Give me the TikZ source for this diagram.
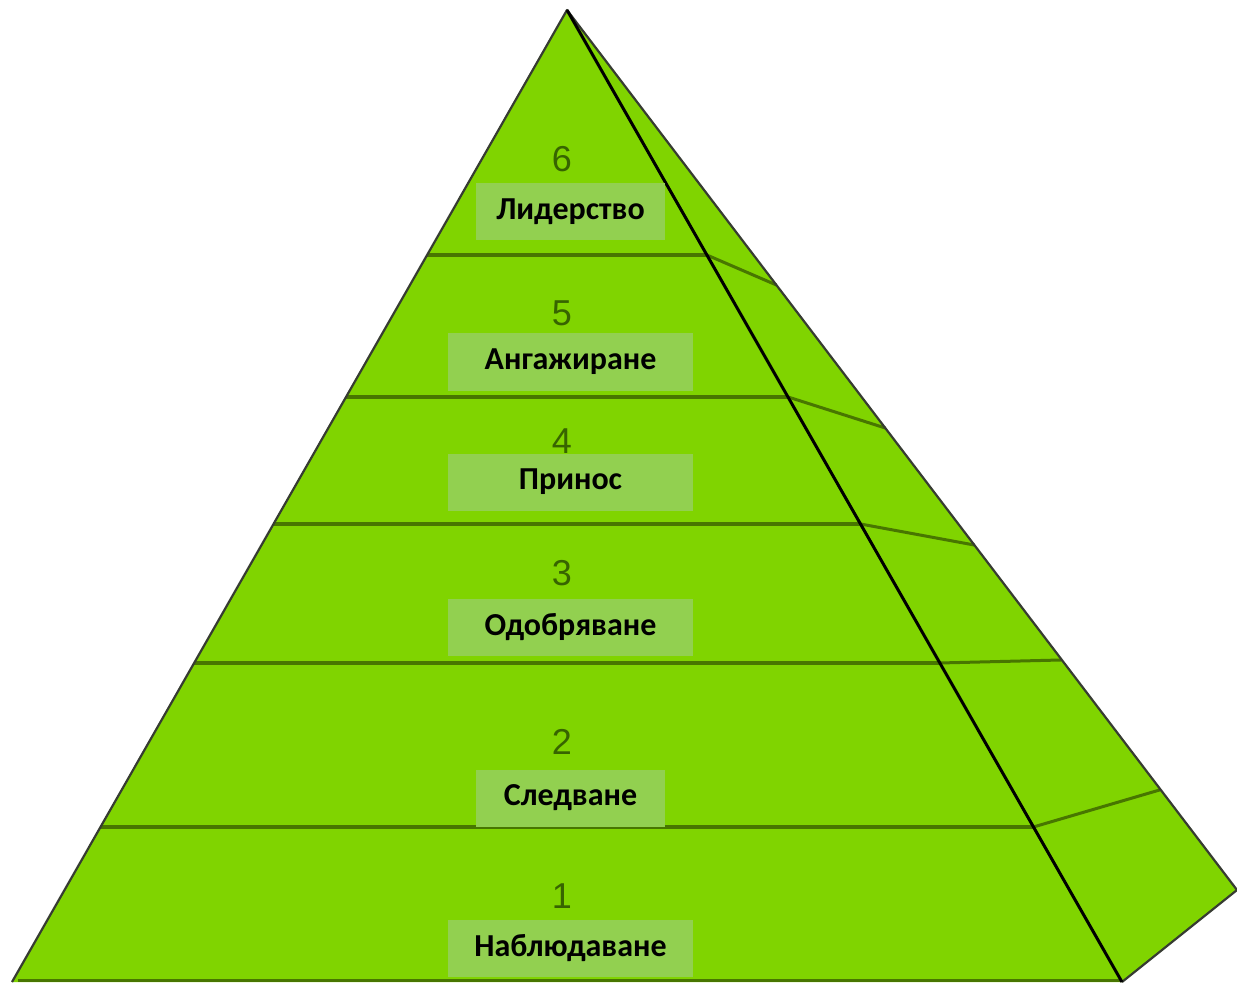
\documentclass[tikz,border=0pt]{standalone}
\usepackage{fontspec}
\setmainfont{Carlito}
\newfontfamily\numfont{Liberation Sans}
\usepackage{xcolor}
\usetikzlibrary{calc,positioning}
\definecolor{pyrgreen}{RGB}{128,212,0}
\definecolor{boxgreen}{RGB}{146,208,80}
\definecolor{linegreen}{RGB}{72,118,0}
\definecolor{numgreen}{RGB}{55,100,0}
\definecolor{rimgrey}{RGB}{55,60,50}

\begin{document}
\begin{tikzpicture}[x=1pt,y=-1pt,
    band/.style={linegreen, line width=4pt},
    sideline/.style={linegreen, line width=3pt},
    lvlbox/.style={fill=boxgreen, minimum height=57pt, inner sep=0pt, font=\fontsize{32}{34}\selectfont\bfseries},
    lvlnum/.style={text=numgreen, font=\numfont\fontsize{36}{38}\selectfont}]
    \useasboundingbox (0,0) rectangle (1237,984);
    % corners of the pyramid
    \coordinate (apex) at (567,10);
    \coordinate (left) at (12,982);
    \coordinate (edge) at (1122,982);
    \coordinate (right) at (1237,890);
    % faces
    \fill[pyrgreen] (apex) -- (left) -- (edge) -- (right) -- cycle;
    \draw[linegreen, line width=3pt] ($(left)+(6,-2)$) -- ($(edge)+(0,-2)$);
    % levels on the front face and the side face
    \draw[band] ($(apex)!.2521!(left)$) -- ($(apex)!.2521!(edge)$);
    \draw[sideline] ($(apex)!.2521!(edge)$) -- ($(apex)!.3125!(right)$);
    \draw[band] ($(apex)!.3981!(left)$) -- ($(apex)!.3981!(edge)$);
    \draw[sideline] ($(apex)!.3981!(edge)$) -- ($(apex)!.4750!(right)$);
    \draw[band] ($(apex)!.5288!(left)$) -- ($(apex)!.5288!(edge)$);
    \draw[sideline] ($(apex)!.5288!(edge)$) -- ($(apex)!.6080!(right)$);
    \draw[band] ($(apex)!.6718!(left)$) -- ($(apex)!.6718!(edge)$);
    \draw[sideline] ($(apex)!.6718!(edge)$) -- ($(apex)!.7386!(right)$);
    \draw[band] ($(apex)!.8405!(left)$) -- ($(apex)!.8405!(edge)$);
    \draw[sideline] ($(apex)!.8405!(edge)$) -- ($(apex)!.8860!(right)$);
    % outline
    \draw[rimgrey, line width=2.2pt, line join=round] (left) -- (apex) -- (right) -- (edge);
    \draw[black, line width=3pt] (apex) -- (edge);
    % numbers and labels
    \node[lvlnum] (n6) at (562,159) {6};
    \node[lvlbox, minimum width=189pt] (l6) at (570.5,212) {Лидерство};
    \node[lvlnum] (n5) at (562,313) {5};
    \node[lvlbox, minimum width=245pt] (l5) at (570.5,362) {Ангажиране};
    \node[lvlnum] (n4) at (562,441) {4};
    \node[lvlbox, minimum width=245pt] (l4) at (570.5,482) {Принос};
    \node[lvlnum] (n3) at (562,573) {3};
    \node[lvlbox, minimum width=245pt] (l3) at (570.5,627) {Одобряване};
    \node[lvlnum] (n2) at (562,742) {2};
    \node[lvlbox, minimum width=189pt] (l2) at (570.5,798) {Следване};
    \node[lvlnum] (n1) at (562,896) {1};
    \node[lvlbox, minimum width=245pt] (l1) at (570.5,948) {Наблюдаване};
\end{tikzpicture}
\end{document}
